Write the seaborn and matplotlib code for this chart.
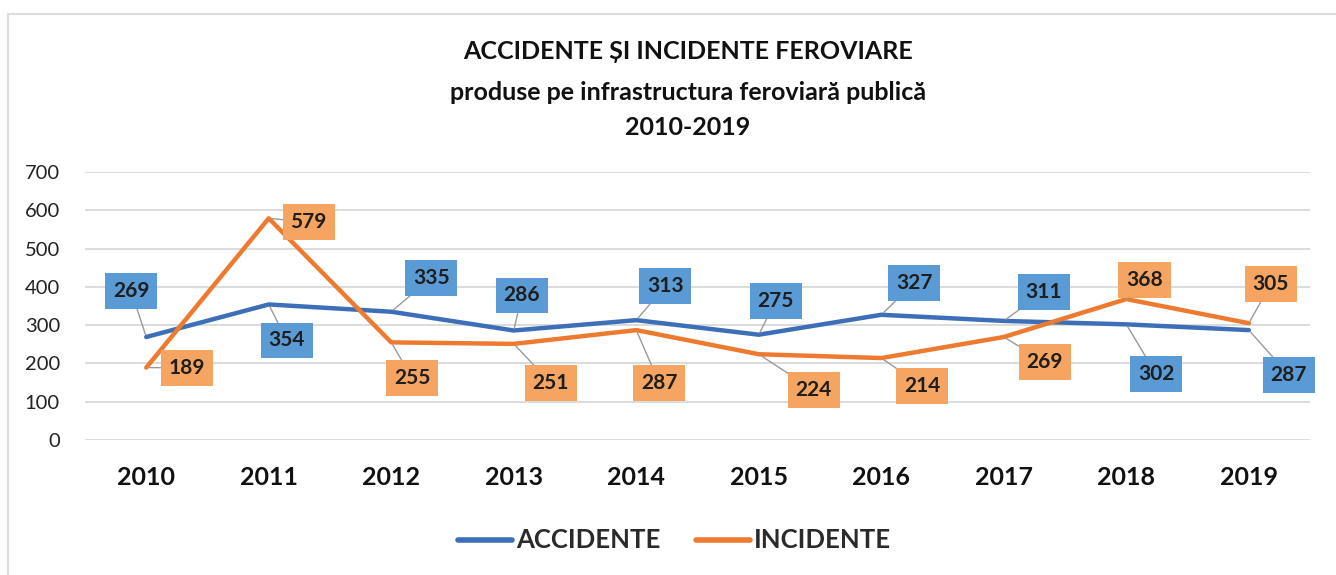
import matplotlib.pyplot as plt
import matplotlib.patches as mpatches
import pandas as pd
import seaborn as sns

years = [2010, 2011, 2012, 2013, 2014, 2015, 2016, 2017, 2018, 2019]
accidente = [269, 354, 335, 286, 313, 275, 327, 311, 302, 287]
incidente = [189, 579, 255, 251, 287, 224, 214, 269, 368, 305]

df = pd.DataFrame({
    "an": years * 2,
    "valoare": accidente + incidente,
    "tip": ["ACCIDENTE"] * len(years) + ["INCIDENTE"] * len(years),
})

blue = "#3C6FB8"
orange = "#EE7A30"
blue_box = "#5B9BD5"
orange_box = "#F5A461"

sns.set_theme(style="white")
plt.rcParams["font.family"] = ["Lato", "DejaVu Sans"]

fig = plt.figure(figsize=(13.36, 5.75), dpi=100)
ax = fig.add_axes([0.0636, 0.2348, 0.917, 0.4661])

sns.lineplot(data=df, x="an", y="valoare", hue="tip", palette=[blue, orange],
             linewidth=3.2, ax=ax, legend=False, zorder=3)

ax.set_xlim(2009.5, 2019.5)
ax.set_ylim(0, 700)
ax.set_yticks(range(0, 701, 100))
ax.set_xticks(years)
ax.set_xticklabels([str(y) for y in years], fontsize=18, fontweight="bold", color="#111111")
ax.tick_params(axis="y", labelsize=14.5, pad=18, length=0, colors="#222222")
ax.tick_params(axis="x", pad=19, length=0)
ax.grid(axis="y", color="#D6D6D6", linewidth=1.2)
ax.set_xlabel("")
ax.set_ylabel("")
for s in ax.spines.values():
    s.set_visible(False)

# label offsets in pixels (dx, dy) - positive dy is up
acc_off = [(-15, 46), (18, -36), (40, 34), (8, 35), (29, 34), (17, 34), (33, 32), (40, 29), (30, -50), (40, -45)]
inc_off = [(41, 0), (40, -4), (21, -36), (37, -39), (23, -53), (55, -36), (41, -28), (41, -25), (18, 19), (22, 39)]

for vals, offs, fc in [(accidente, acc_off, blue_box), (incidente, inc_off, orange_box)]:
    for x, v, (dx, dy) in zip(years, vals, offs):
        ax.annotate(str(v), xy=(x, v), xytext=(dx, dy), textcoords="offset pixels",
                    ha="center", va="center", fontsize=15, fontweight="bold", color="#1E1E1E",
                    bbox=dict(boxstyle="square,pad=0.38", fc=fc, ec="none"),
                    arrowprops=dict(arrowstyle="-", color="#9A9A9A", lw=1, shrinkA=0, shrinkB=2),
                    zorder=5)

title_kw = dict(ha="center", va="center", fontsize=18, fontweight="bold", color="#111111")
fig.text(0.515, 0.91, "ACCIDENTE ȘI INCIDENTE FEROVIARE", **title_kw)
fig.text(0.515, 0.84, "produse pe infrastructura feroviară publică", **title_kw)
fig.text(0.515, 0.778, "2010-2019", **title_kw)

handles = [plt.Line2D([], [], color=blue, lw=4, solid_capstyle="round"),
           plt.Line2D([], [], color=orange, lw=4, solid_capstyle="round")]
fig.legend(handles, ["ACCIDENTE", "INCIDENTE"], loc="center", bbox_to_anchor=(0.505, 0.06),
           ncol=2, frameon=False, handlelength=2.1, handletextpad=0.15, columnspacing=1.4,
           prop={"size": 18.5, "weight": "bold"}, labelcolor="#2A2A2A")

# faint frame of the scanned chart area
fig.patches.append(mpatches.Rectangle((0.006, -0.01), 1.2, 0.985, transform=fig.transFigure,
                                      fill=False, ec="#DDDDDD", lw=1.5))

fig.savefig("out.png", dpi=100)
